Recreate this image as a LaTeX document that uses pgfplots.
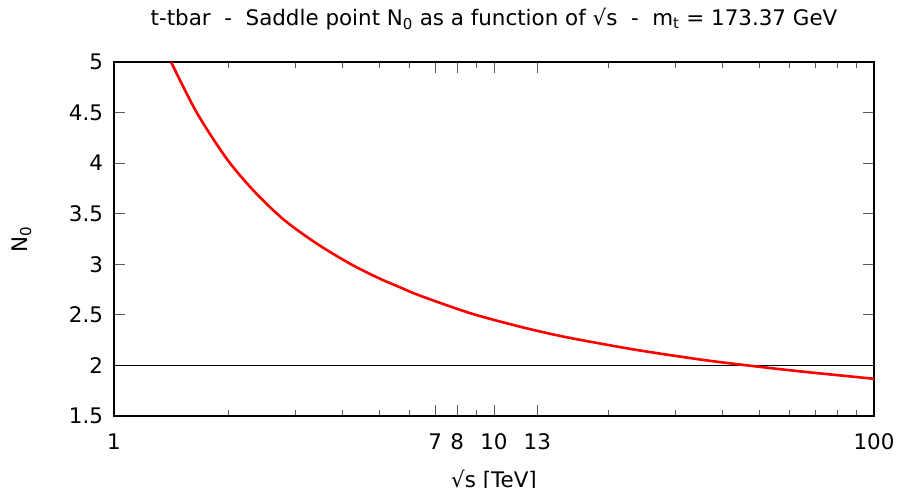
\documentclass[border=0pt]{standalone}
\usepackage{fontspec}
\setmainfont{DejaVu Sans}
\usepackage{pgfplots}
\pgfplotsset{compat=1.18}
\usetikzlibrary{calc}

% saddle point N0
\pgfplotstableread{
x y
1.413 5.000
1.651 4.500
1.979 4.045
2.326 3.731
2.790 3.445
3.415 3.205
4.178 3.006
4.913 2.872
5.660 2.772
6.390 2.690
8.650 2.517
11.71 2.383
14.91 2.292
19.00 2.217
24.20 2.148
34.80 2.059
47.20 1.997
65.20 1.938
100.0 1.868
}\nzero

\begin{document}
\begin{tikzpicture}[font=\fontsize{21.5}{26}\selectfont]
\begin{axis}[
    name=ax,
    scale only axis,
    width=760bp, height=354bp,
    xmode=log,
    xmin=1, xmax=100,
    ymin=1.5, ymax=5,
    xtick={1,7,8,10,13,100},
    xticklabels={1,7,8,10,13,100},
    minor xtick={2,3,4,5,6,9,20,30,40,50,60,70,80,90},
    ytick={1.5,2,2.5,3,3.5,4,4.5,5},
    /pgf/number format/assume math mode=true,
    tick align=inside,
    major tick length=11bp,
    minor tick length=5.5bp,
    tick style={line width=1bp, color=black!65},
    axis line style={line width=1.2bp, black},
    xticklabel style={anchor=base, yshift=-33bp},
    yticklabel style={anchor=east, xshift=-7.5bp},
    title={t-tbar\ \ -\ \ Saddle point N\textsubscript{0} as a function of √s\ \ -\ \ m\textsubscript{t} = 173.37 GeV},
    title style={at={(axis description cs:0.5,1)}, anchor=base, yshift=31bp},
    xlabel={√s [TeV]},
    xlabel style={at={(axis description cs:0.5,0)}, anchor=base, yshift=-71bp},
    ylabel={N\textsubscript{0}},
    ylabel style={at={(axis description cs:-0.1217,0.5)}, anchor=center},
]
\addplot [black, line width=1bp] coordinates {(1,2) (100,2)};
\addplot [red, line width=2.6bp, smooth] table [x=x, y=y] {\nzero};
\end{axis}
\pgfresetboundingbox
\path ($(ax.south west)+(-114bp,-72bp)$) rectangle ($(ax.north east)+(25bp,62bp)$);
\end{tikzpicture}
\end{document}
